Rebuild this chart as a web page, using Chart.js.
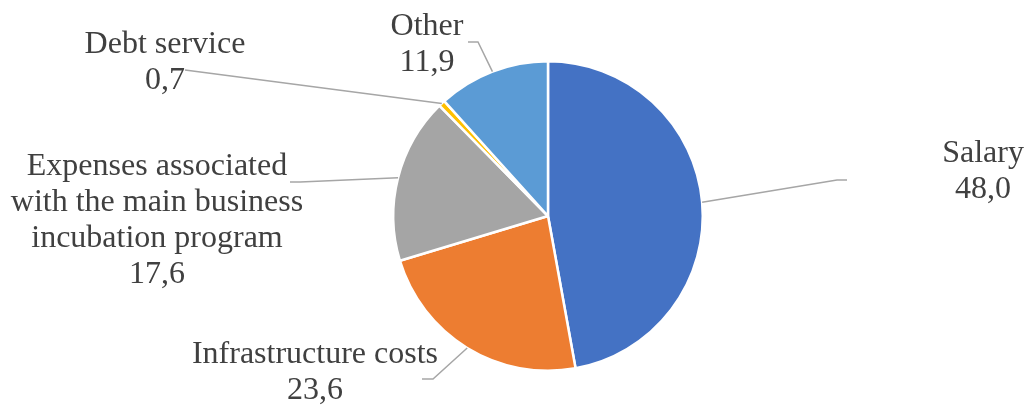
<!DOCTYPE html>
<html>
<head>
<meta charset="utf-8">
<script src="https://cdn.jsdelivr.net/npm/chart.js@4.4.1/dist/chart.umd.min.js"></script>
<style>
  html, body { margin: 0; padding: 0; background: #fff; }
  #wrap { width: 1026px; height: 407px; position: relative; }
</style>
</head>
<body>
<div id="wrap"><canvas id="costChart"></canvas></div>
<script>
const categories = ["Salary", "Infrastructure costs", "Expenses associated with the main business incubation program", "Debt service", "Other"];
const shares = [48.0, 23.6, 17.6, 0.7, 11.9];
const sliceColors = ["#4472C4", "#ED7D31", "#A5A5A5", "#FFC000", "#5B9BD5"];

// label text lines, placement (centre x, first baseline) and leader elbow points
const labelLines = [
    ["Salary"],
    ["Infrastructure costs"],
    ["Expenses associated", "with the main business", "incubation program"],
    ["Debt service"],
    ["Other"]
];
const labelPos = [
    { x: 983, y: 162 },
    { x: 315, y: 363 },
    { x: 157, y: 175 },
    { x: 165, y: 53 },
    { x: 427, y: 35 }
];
const leaderPts = [
    [[837, 180], [847, 180]],
    [[433, 379], [422, 379]],
    [[300, 182], [290, 182]],
    [[185, 70]],
    [[478, 42], [468, 42]]
];

const fmt = v => v.toFixed(1).replace(".", ",");
const labelFont = "32px 'Liberation Serif'";

const calloutLabels = {
    id: "calloutLabels",
    afterDraw(chart) {
        const ctx = chart.ctx;
        const arcs = chart.getDatasetMeta(0).data;
        ctx.save();
        arcs.forEach((arc, i) => {
            const mid = (arc.startAngle + arc.endAngle) / 2;
            const sx = arc.x + Math.cos(mid) * arc.outerRadius;
            const sy = arc.y + Math.sin(mid) * arc.outerRadius;
            ctx.beginPath();
            ctx.strokeStyle = "#A6A6A6";
            ctx.lineWidth = 1.5;
            ctx.moveTo(sx, sy);
            leaderPts[i].forEach(p => ctx.lineTo(p[0], p[1]));
            ctx.stroke();
        });
        ctx.font = labelFont;
        ctx.fillStyle = "#404040";
        ctx.textAlign = "center";
        ctx.textBaseline = "alphabetic";
        arcs.forEach((arc, i) => {
            const lines = labelLines[i].concat([fmt(shares[i])]);
            lines.forEach((t, k) => ctx.fillText(t, labelPos[i].x, labelPos[i].y + k * 36));
        });
        ctx.restore();
    }
};

new Chart(document.getElementById("costChart"), {
    type: "pie",
    data: {
        labels: categories,
        datasets: [{
            data: shares,
            backgroundColor: sliceColors,
            borderColor: "#ffffff",
            borderWidth: 2.5
        }]
    },
    options: {
        responsive: true,
        maintainAspectRatio: false,
        animation: false,
        layout: { padding: { left: 392, right: 322, top: 60, bottom: 35 } },
        plugins: {
            legend: { display: false },
            tooltip: { enabled: false }
        }
    },
    plugins: [calloutLabels]
});
</script>
</body>
</html>
